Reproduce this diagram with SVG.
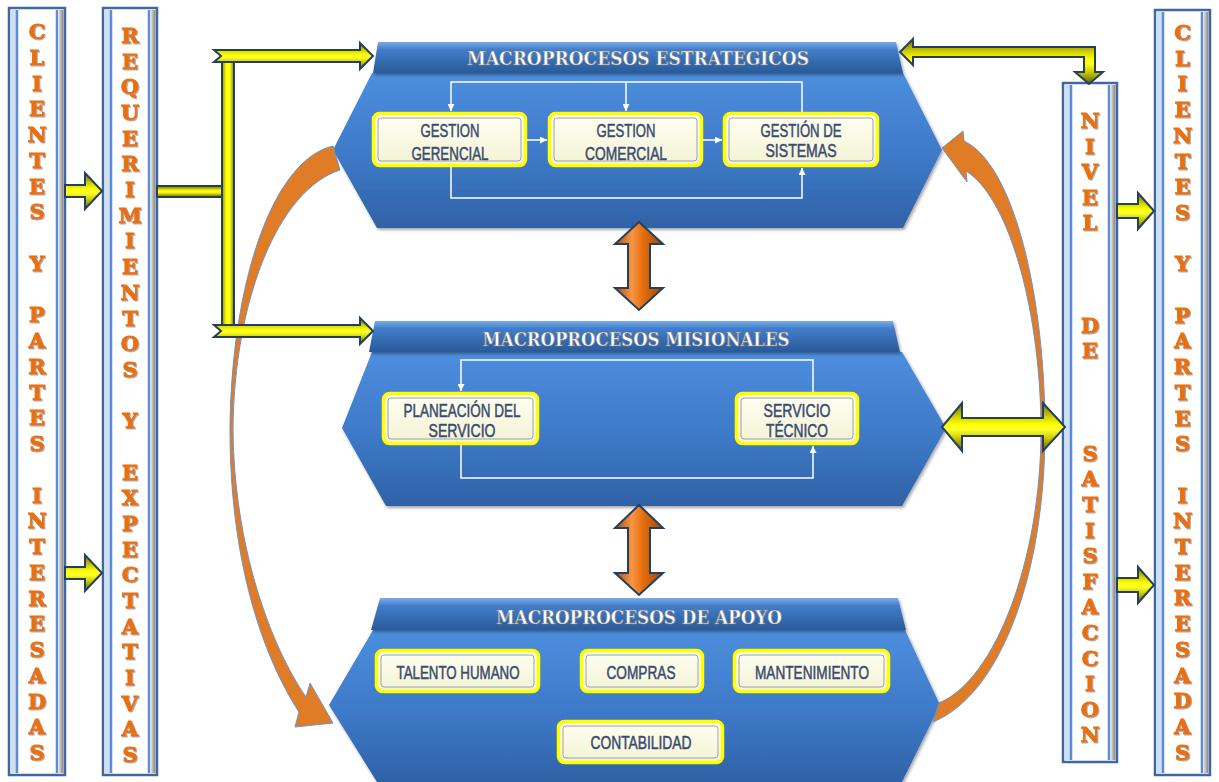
<svg xmlns="http://www.w3.org/2000/svg" width="1219" height="782" viewBox="0 0 1219 782">
<defs>
<style>
.col-out{fill:#fff;stroke:#41689E;stroke-width:2.5}
.col-lt{fill:#CFE0F4}
.col-in{stroke:#5B8DD3;stroke-width:2.5}
.col-rt{fill:url(#colR)}
.ltr{font-family:"DejaVu Serif","Liberation Serif",serif;font-weight:bold;font-size:21px;fill:#E8700C;stroke:#E8700C;stroke-width:0.9;text-anchor:middle;filter:url(#lsh)}
.hex{fill:url(#hexBody);filter:url(#sh)}
.hdr{fill:url(#hdr);filter:url(#sh)}
.hdr-t{font-family:"DejaVu Serif","Liberation Serif",serif;font-weight:bold;font-size:19px;fill:#fff;stroke:#7A7A7A;stroke-width:0.6;text-anchor:middle}
.box{fill:url(#boxFill);stroke:#FFFF00;stroke-width:3.5}
.box-in{fill:none;stroke:#A0A0A0;stroke-width:1}
.bt{font-family:"Liberation Sans",Arial,sans-serif;font-size:18px;fill:#3A4B70;stroke:#3A4B70;stroke-width:0.5;text-anchor:middle}
.yh{fill:url(#yelH);stroke:#243F60;stroke-width:2;stroke-linejoin:miter}
.yv{fill:url(#yelV);stroke:#243F60;stroke-width:2}
.oa{fill:url(#orgV);stroke:#243F60;stroke-width:2;stroke-linejoin:miter}
.arc{fill:#E07B26;stroke:#6D93C9;stroke-width:1}
.wl{fill:none;stroke:#FFFFFF;stroke-width:1.5}
</style>
<linearGradient id="hexBody" x1="0" y1="0" x2="0" y2="1">
<stop offset="0" stop-color="#4D8EDE"/><stop offset="0.55" stop-color="#3D79C7"/><stop offset="1" stop-color="#2F62A6"/>
</linearGradient>
<linearGradient id="hdr" x1="0" y1="0" x2="0" y2="1">
<stop offset="0" stop-color="#79ACEA"/><stop offset="0.25" stop-color="#417DCA"/><stop offset="1" stop-color="#2A5A98"/>
</linearGradient>
<linearGradient id="yelH" x1="0" y1="0" x2="0" y2="1">
<stop offset="0" stop-color="#6B6B00"/><stop offset="0.3" stop-color="#D6D600"/><stop offset="0.45" stop-color="#FFFF00"/><stop offset="0.55" stop-color="#FFFF30"/><stop offset="0.72" stop-color="#D0D000"/><stop offset="1" stop-color="#5E5E00"/>
</linearGradient>
<linearGradient id="yelV" x1="0" y1="0" x2="1" y2="0">
<stop offset="0" stop-color="#8A8A00"/><stop offset="0.35" stop-color="#FFFF00"/><stop offset="0.65" stop-color="#FFFF20"/><stop offset="1" stop-color="#7A7A00"/>
</linearGradient>
<linearGradient id="orgV" x1="0" y1="0" x2="1" y2="0">
<stop offset="0" stop-color="#A84C0A"/><stop offset="0.35" stop-color="#F79646"/><stop offset="0.6" stop-color="#E46C0A"/><stop offset="1" stop-color="#9A4508"/>
</linearGradient>
<linearGradient id="boxFill" x1="0" y1="0" x2="0" y2="1">
<stop offset="0" stop-color="#FFFFF2"/><stop offset="1" stop-color="#F3F3D6"/>
</linearGradient>
<linearGradient id="colR" x1="0" y1="0" x2="1" y2="0">
<stop offset="0" stop-color="#E6E6E6"/><stop offset="1" stop-color="#808080"/>
</linearGradient>
<filter id="sh" x="-5%" y="-10%" width="110%" height="125%">
<feDropShadow dx="1.5" dy="2" stdDeviation="1.5" flood-color="#000" flood-opacity="0.35"/>
</filter>
<filter id="lsh" x="-20%" y="-20%" width="150%" height="150%">
<feDropShadow dx="1" dy="1" stdDeviation="0.4" flood-color="#A6A6A6" flood-opacity="0.9"/>
</filter>
<marker id="wa" viewBox="0 0 8 8" refX="8" refY="4" markerWidth="7" markerHeight="7" orient="auto" markerUnits="userSpaceOnUse">
<path d="M0,0 L8,4 L0,8 z" fill="#FFFFFF"/>
</marker>
</defs>
<rect x="0" y="0" width="1219" height="782" fill="#FFFFFF"/>

<g id="col-clientes-izq">
<rect class="col-out" x="9" y="8" width="56" height="767"/>
<rect class="col-lt" x="11" y="10" width="5" height="763"/>
<line class="col-in" x1="17" y1="10" x2="17" y2="773"/>
<line class="col-in" x1="57" y1="10" x2="57" y2="773"/>
<rect class="col-rt" x="58.5" y="10" width="5" height="763"/>
<text class="ltr"><tspan x="37" y="39">C</tspan><tspan x="37" y="64.8">L</tspan><tspan x="37" y="90.5">I</tspan><tspan x="37" y="116.3">E</tspan><tspan x="37" y="142">N</tspan><tspan x="37" y="167.8">T</tspan><tspan x="37" y="193.5">E</tspan><tspan x="37" y="219.3">S</tspan><tspan x="37" y="270.8">Y</tspan><tspan x="37" y="322.3">P</tspan><tspan x="37" y="348">A</tspan><tspan x="37" y="373.8">R</tspan><tspan x="37" y="399.5">T</tspan><tspan x="37" y="425.3">E</tspan><tspan x="37" y="451">S</tspan><tspan x="37" y="502.5">I</tspan><tspan x="37" y="528.3">N</tspan><tspan x="37" y="554">T</tspan><tspan x="37" y="579.8">E</tspan><tspan x="37" y="605.5">R</tspan><tspan x="37" y="631.3">E</tspan><tspan x="37" y="657">S</tspan><tspan x="37" y="682.8">A</tspan><tspan x="37" y="708.5">D</tspan><tspan x="37" y="734.3">A</tspan><tspan x="37" y="760">S</tspan></text>
</g>

<g id="col-requerimientos">
<rect class="col-out" x="103" y="8" width="54" height="767"/>
<rect class="col-lt" x="105" y="10" width="5" height="763"/>
<line class="col-in" x1="111" y1="10" x2="111" y2="773"/>
<line class="col-in" x1="149" y1="10" x2="149" y2="773"/>
<rect class="col-rt" x="150.5" y="10" width="5" height="763"/>
<text class="ltr"><tspan x="130" y="43">R</tspan><tspan x="130" y="68.7">E</tspan><tspan x="130" y="94.4">Q</tspan><tspan x="130" y="120">U</tspan><tspan x="130" y="145.7">E</tspan><tspan x="130" y="171.4">R</tspan><tspan x="130" y="197.1">I</tspan><tspan x="130" y="222.8">M</tspan><tspan x="130" y="248.4">I</tspan><tspan x="130" y="274.1">E</tspan><tspan x="130" y="299.8">N</tspan><tspan x="130" y="325.5">T</tspan><tspan x="130" y="351.2">O</tspan><tspan x="130" y="376.8">S</tspan><tspan x="130" y="428.2">Y</tspan><tspan x="130" y="479.6">E</tspan><tspan x="130" y="505.2">X</tspan><tspan x="130" y="530.9">P</tspan><tspan x="130" y="556.6">E</tspan><tspan x="130" y="582.3">C</tspan><tspan x="130" y="608">T</tspan><tspan x="130" y="633.6">A</tspan><tspan x="130" y="659.3">T</tspan><tspan x="130" y="685">I</tspan><tspan x="130" y="710.7">V</tspan><tspan x="130" y="736.4">A</tspan><tspan x="130" y="762">S</tspan></text>
</g>

<g id="col-nivel">
<rect class="col-out" x="1063" y="83" width="54" height="679"/>
<rect class="col-lt" x="1065" y="85" width="5" height="675"/>
<line class="col-in" x1="1071" y1="85" x2="1071" y2="760"/>
<line class="col-in" x1="1109" y1="85" x2="1109" y2="760"/>
<rect class="col-rt" x="1110.5" y="85" width="5" height="675"/>
<text class="ltr"><tspan x="1090" y="128">N</tspan><tspan x="1090" y="153.6">I</tspan><tspan x="1090" y="179.2">V</tspan><tspan x="1090" y="204.8">E</tspan><tspan x="1090" y="230.4">L</tspan><tspan x="1090" y="332.8">D</tspan><tspan x="1090" y="358.4">E</tspan><tspan x="1090" y="460.8">S</tspan><tspan x="1090" y="486.4">A</tspan><tspan x="1090" y="512">T</tspan><tspan x="1090" y="537.6">I</tspan><tspan x="1090" y="563.2">S</tspan><tspan x="1090" y="588.8">F</tspan><tspan x="1090" y="614.4">A</tspan><tspan x="1090" y="640">C</tspan><tspan x="1090" y="665.6">C</tspan><tspan x="1090" y="691.2">I</tspan><tspan x="1090" y="716.8">O</tspan><tspan x="1090" y="742.4">N</tspan></text>
</g>

<g id="col-clientes-der">
<rect class="col-out" x="1155" y="10" width="55" height="765"/>
<rect class="col-lt" x="1157" y="12" width="5" height="761"/>
<line class="col-in" x1="1163" y1="12" x2="1163" y2="773"/>
<line class="col-in" x1="1202" y1="12" x2="1202" y2="773"/>
<rect class="col-rt" x="1203.5" y="12" width="5" height="761"/>
<text class="ltr"><tspan x="1182.5" y="40">C</tspan><tspan x="1182.5" y="65.7">L</tspan><tspan x="1182.5" y="91.4">I</tspan><tspan x="1182.5" y="117.1">E</tspan><tspan x="1182.5" y="142.8">N</tspan><tspan x="1182.5" y="168.5">T</tspan><tspan x="1182.5" y="194.2">E</tspan><tspan x="1182.5" y="219.9">S</tspan><tspan x="1182.5" y="271.3">Y</tspan><tspan x="1182.5" y="322.7">P</tspan><tspan x="1182.5" y="348.4">A</tspan><tspan x="1182.5" y="374.1">R</tspan><tspan x="1182.5" y="399.8">T</tspan><tspan x="1182.5" y="425.5">E</tspan><tspan x="1182.5" y="451.2">S</tspan><tspan x="1182.5" y="502.6">I</tspan><tspan x="1182.5" y="528.3">N</tspan><tspan x="1182.5" y="554">T</tspan><tspan x="1182.5" y="579.7">E</tspan><tspan x="1182.5" y="605.4">R</tspan><tspan x="1182.5" y="631.1">E</tspan><tspan x="1182.5" y="656.8">S</tspan><tspan x="1182.5" y="682.5">A</tspan><tspan x="1182.5" y="708.2">D</tspan><tspan x="1182.5" y="733.9">A</tspan><tspan x="1182.5" y="759.6">S</tspan></text>
</g>

<g id="estrategicos">
<polygon class="hex" points="372,73 903,73 942,150 903,228 377,228 333,150"/>
<polygon class="hdr" points="378,42 896,42 903,73 373,73"/>
<text class="hdr-t" x="638" y="65" textLength="342" lengthAdjust="spacingAndGlyphs">MACROPROCESOS ESTRATEGICOS</text>
</g>
<g id="gestion-gerencial">
<rect class="box" x="373.5" y="113.5" width="152" height="52" rx="6"/>
<rect class="box-in" x="378" y="118" width="143" height="43" rx="3"/>
<text class="bt" x="450" y="137" textLength="59" lengthAdjust="spacingAndGlyphs">GESTION</text>
<text class="bt" x="450" y="160" textLength="77" lengthAdjust="spacingAndGlyphs">GERENCIAL</text>
</g>
<g id="gestion-comercial">
<rect class="box" x="549.5" y="113.5" width="152" height="52" rx="6"/>
<rect class="box-in" x="554" y="118" width="143" height="43" rx="3"/>
<text class="bt" x="626" y="137" textLength="59" lengthAdjust="spacingAndGlyphs">GESTION</text>
<text class="bt" x="626" y="160" textLength="82" lengthAdjust="spacingAndGlyphs">COMERCIAL</text>
</g>
<g id="gestion-sistemas">
<rect class="box" x="724.5" y="113.5" width="153" height="52" rx="6"/>
<rect class="box-in" x="729" y="118" width="144" height="43" rx="3"/>
<text class="bt" x="801" y="137" textLength="81" lengthAdjust="spacingAndGlyphs">GESTIÓN DE</text>
<text class="bt" x="801" y="157" textLength="71" lengthAdjust="spacingAndGlyphs">SISTEMAS</text>
</g>

<g id="misionales">
<polygon class="hex" points="372,352 902,352 946,428 902,506 386,506 342,428"/>
<polygon class="hdr" points="375,321 893,321 900,352 369,352"/>
<text class="hdr-t" x="636" y="346" textLength="307" lengthAdjust="spacingAndGlyphs">MACROPROCESOS MISIONALES</text>
</g>
<g id="planeacion">
<rect class="box" x="383.5" y="393.5" width="154" height="50" rx="6"/>
<rect class="box-in" x="388" y="398" width="145" height="41" rx="3"/>
<text class="bt" x="462" y="417" textLength="117" lengthAdjust="spacingAndGlyphs">PLANEACIÓN DEL</text>
<text class="bt" x="462" y="437" textLength="67" lengthAdjust="spacingAndGlyphs">SERVICIO</text>
</g>
<g id="servicio-tecnico">
<rect class="box" x="736.5" y="393.5" width="121" height="50" rx="6"/>
<rect class="box-in" x="741" y="398" width="112" height="41" rx="3"/>
<text class="bt" x="797" y="417" textLength="67" lengthAdjust="spacingAndGlyphs">SERVICIO</text>
<text class="bt" x="797" y="437" textLength="62" lengthAdjust="spacingAndGlyphs">TÉCNICO</text>
</g>

<g id="apoyo">
<polygon class="hex" points="373,630 905,630 940,705 902,782 377,782 329,705"/>
<polygon class="hdr" points="380,598 898,598 906,630 371,630"/>
<text class="hdr-t" x="639" y="624" textLength="286" lengthAdjust="spacingAndGlyphs">MACROPROCESOS DE APOYO</text>
</g>
<g id="talento-humano">
<rect class="box" x="376.5" y="650.5" width="162" height="41" rx="6"/>
<rect class="box-in" x="381" y="655" width="153" height="32" rx="3"/>
<text class="bt" x="458" y="679" textLength="123" lengthAdjust="spacingAndGlyphs">TALENTO HUMANO</text>
</g>
<g id="compras">
<rect class="box" x="581.5" y="650.5" width="121" height="41" rx="6"/>
<rect class="box-in" x="586" y="655" width="112" height="32" rx="3"/>
<text class="bt" x="641" y="679" textLength="69" lengthAdjust="spacingAndGlyphs">COMPRAS</text>
</g>
<g id="mantenimiento">
<rect class="box" x="734.5" y="650.5" width="154" height="41" rx="6"/>
<rect class="box-in" x="739" y="655" width="145" height="32" rx="3"/>
<text class="bt" x="812" y="679" textLength="114" lengthAdjust="spacingAndGlyphs">MANTENIMIENTO</text>
</g>
<g id="contabilidad">
<rect class="box" x="558.5" y="721.5" width="164" height="41" rx="6"/>
<rect class="box-in" x="563" y="726" width="155" height="32" rx="3"/>
<text class="bt" x="641" y="749" textLength="101" lengthAdjust="spacingAndGlyphs">CONTABILIDAD</text>
</g>

<g id="connectors">
<path class="arc" d="M 333,146 C 272,160 231,285 230,430 C 230,560 262,655 299,712 L 295,727 L 333,723 L 310,683 L 306,697 C 270,645 234,545 233,430 C 234,300 278,190 340,170 Z"/>
<path class="arc" d="M 942,148 L 963,131 L 964,141 C 1015,165 1045,300 1045,430 C 1045,575 1000,695 933,722 L 939,703 C 995,680 1041,560 1041,430 C 1041,320 1012,200 966,171 L 967,182 Z"/>

<polygon class="yh" points="65,185 85,185 85,173 102,191 85,209 85,197 65,197"/>
<polygon class="yh" points="65,567 85,567 85,555 102,573 85,591 85,579 65,579"/>
<rect class="yh" x="157" y="186" width="66" height="11"/>
<rect class="yv" x="222" y="52" width="12" height="282"/>
<polygon class="yh" points="214,50 360,50 360,43 373,56 360,69 360,62 214,62 221,56"/>
<polygon class="yh" points="214,325 360,325 360,318 373,331 360,344 360,337 214,337 221,331"/>
<polygon class="yh" points="900,52 913,39 913,47 1095,47 1095,72 1103,72 1089,84 1075,72 1084,72 1084,57 913,57 913,65"/>
<polygon class="yh" points="942,427 962,403 962,418 1043,418 1043,403 1065,427 1043,451 1043,436 962,436 962,451"/>
<polygon class="yh" points="1117,204 1138,204 1138,193 1154,211 1138,229 1138,218 1117,218"/>
<polygon class="yh" points="1117,578 1138,578 1138,567 1154,585 1138,603 1138,592 1117,592"/>

<polygon class="oa" points="639,222 663,244 650,244 650,288 663,288 639,310 615,288 628,288 628,244 615,244"/>
<polygon class="oa" points="639,505 663,528 650,528 650,573 663,573 639,595 615,573 628,573 628,528 615,528"/>

<polyline class="wl" points="802,112 802,82 451,82 451,111" marker-end="url(#wa)"/>
<line class="wl" x1="626" y1="82" x2="626" y2="111" marker-end="url(#wa)"/>
<polyline class="wl" points="451,167 451,198 802,198 802,168" marker-end="url(#wa)"/>
<line class="wl" x1="527" y1="140" x2="547" y2="140" marker-end="url(#wa)"/>
<line class="wl" x1="703" y1="140" x2="722" y2="140" marker-end="url(#wa)"/>
<polyline class="wl" points="813,392 813,360 461,360 461,391" marker-end="url(#wa)"/>
<polyline class="wl" points="461,445 461,478 813,478 813,446" marker-end="url(#wa)"/>
</g>
</svg>
